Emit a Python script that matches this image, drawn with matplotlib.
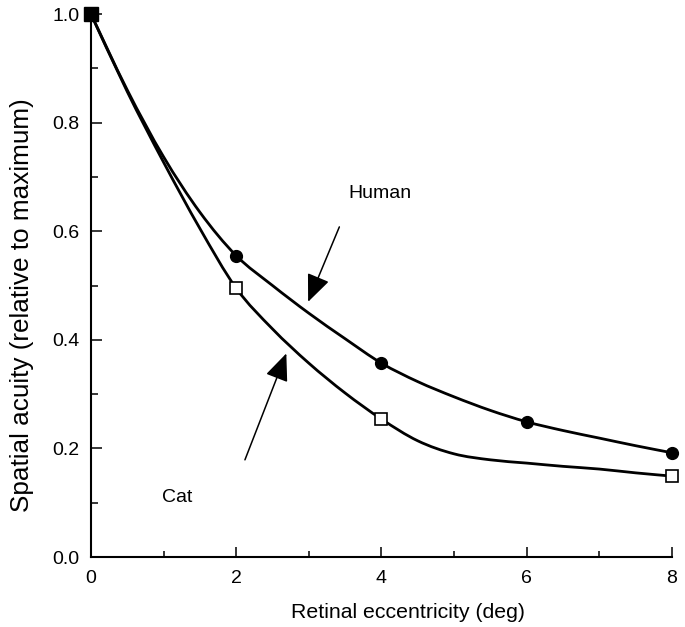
import numpy as np
import matplotlib
matplotlib.use('Agg')
import matplotlib.pyplot as plt
from matplotlib.path import Path
from matplotlib.patches import PathPatch

plt.rcParams['font.family'] = ['Liberation Sans', 'DejaVu Sans']

# measured points
ecc = [0, 2, 4, 6, 8]
human = [1.0, 0.555, 0.357, 0.249, 0.192]
ecc_cat = [0, 2, 4, 8]
cat = [1.0, 0.495, 0.254, 0.149]

# fitted curves
curve_x = [0, 0.5, 1.0, 1.5, 2.0, 2.5, 3.0, 3.5, 4.0, 4.5, 5.0, 5.5, 6.0, 6.5, 7.0, 7.5, 8.0]
human_curve = [1.0, 0.86, 0.737, 0.635, 0.555, 0.500, 0.449, 0.402, 0.357, 0.323, 0.295, 0.270,
               0.249, 0.233, 0.219, 0.205, 0.192]
cat_curve = [1.0, 0.857, 0.727, 0.605, 0.495, 0.42, 0.357, 0.302, 0.254, 0.214, 0.190, 0.179,
             0.173, 0.167, 0.162, 0.155, 0.149]


def smooth_path(xs, ys):
    # catmull-rom through the read points, drawn as cubic bezier segments
    p = np.column_stack([xs, ys])
    verts = [p[0]]
    codes = [Path.MOVETO]
    for i in range(len(p) - 1):
        p0 = p[max(i - 1, 0)]
        p3 = p[min(i + 2, len(p) - 1)]
        c1 = p[i] + (p[i + 1] - p0) / 6
        c2 = p[i + 1] - (p3 - p[i]) / 6
        verts += [c1, c2, p[i + 1]]
        codes += [Path.CURVE4] * 3
    return Path(verts, codes)


fig = plt.figure(figsize=(6.85, 6.27), dpi=100)
ax = fig.add_axes([0.1328, 0.1116, 0.8482, 0.866])

for ys in [human_curve, cat_curve]:
    ax.add_patch(PathPatch(smooth_path(curve_x, ys), fc='none', ec='black', lw=2.0,
                           clip_on=False, zorder=2))
ax.plot(ecc, human, 'o', color='black', ms=8.5, clip_on=False, zorder=3)
ax.plot(ecc_cat[1:], cat[1:], 's', mfc='white', mec='black', mew=1.2, ms=8.5, clip_on=False, zorder=3)
ax.plot(ecc_cat[:1], cat[:1], 's', color='black', ms=10, clip_on=False, zorder=4)

arrow = dict(arrowstyle='-|>,head_length=0.85,head_width=0.36', color='black', lw=1.1,
             mutation_scale=20, shrinkA=0, shrinkB=0)
ax.annotate('', xy=(2.99, 0.470), xytext=(3.42, 0.608), arrowprops=arrow)
ax.annotate('', xy=(2.69, 0.375), xytext=(2.12, 0.179), arrowprops=arrow)
ax.text(3.54, 0.670, 'Human', fontsize=14, va='center', ha='left')
ax.text(0.98, 0.109, 'Cat', fontsize=14, va='center', ha='left')

ax.set_xlim(0, 8)
ax.set_ylim(0, 1.0)
ax.set_xticks([0, 2, 4, 6, 8])
ax.set_xticks([1, 3, 5, 7], minor=True)
ax.set_yticks(np.arange(0, 1.01, 0.2))
ax.set_yticks(np.arange(0.1, 1.0, 0.2), minor=True)
ax.set_yticklabels(['0.0', '0.2', '0.4', '0.6', '0.8', '1.0'])
for s in ['top', 'right']:
    ax.spines[s].set_visible(False)
for s in ['left', 'bottom']:
    ax.spines[s].set_linewidth(1.5)
ax.tick_params(axis='both', which='both', direction='in', width=1.1, labelsize=14)
ax.tick_params(axis='y', which='major', length=8, pad=8.5)
ax.tick_params(axis='y', which='minor', length=5)
ax.tick_params(axis='x', which='major', length=7, pad=9)
ax.tick_params(axis='x', which='minor', length=4.3)

ax.set_xlabel('Retinal eccentricity (deg)', fontsize=15.3, va='center')
ax.xaxis.set_label_coords(0.5456, -0.103)
ax.set_ylabel('Spatial acuity (relative to maximum)', fontsize=18.8, va='center')
ax.yaxis.set_label_coords(-0.119, 0.464)

fig.savefig('out.png', dpi=100)
